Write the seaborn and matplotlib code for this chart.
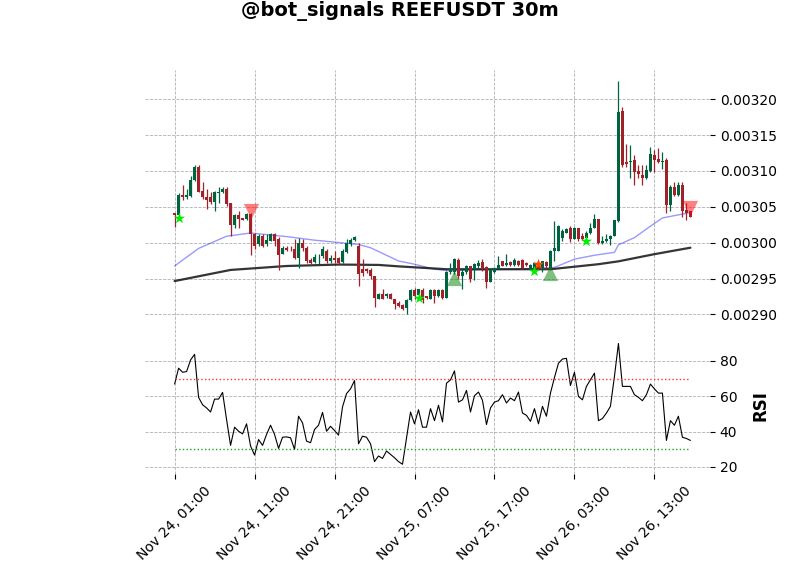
import matplotlib
matplotlib.use('Agg')
import matplotlib.pyplot as plt
import seaborn as sns
import numpy as np

# 30m candles, prices in units of 1e-5 USDT
PRICE_SCALE = 1e-5

opens = [304.1, 303.85, 306.6, 306.35, 306.5, 308.75, 310.6, 307.2, 306.4, 306.3,
         305.7, 306.9, 307.0, 307.45, 305.5, 302.45, 303.85, 303.4, 303.3, 304.0,
         301.2, 299.8, 300.9, 299.8, 300.3, 301.2, 300.5, 298.4, 299.2, 299.1,
         299.1, 297.8, 300.0, 299.2, 297.6, 297.35, 298.1, 298.15, 298.85, 297.45,
         297.9, 297.8, 297.3, 298.7, 299.75, 300.35, 299.6, 296.3, 296.3, 296.2,
         295.3, 292.2, 292.9, 292.5, 292.8, 292.2, 291.65, 291.3, 290.85, 292.0,
         293.45, 292.7, 293.45, 292.5, 292.2, 293.45, 292.5, 293.45, 292.35, 295.85,
         295.85, 297.6, 295.35, 295.85, 296.7, 296.3, 296.7, 297.3, 296.55, 294.55,
         295.9, 296.4, 297.45, 296.85, 297.3, 296.9, 297.45, 297.6, 297.2, 296.4,
         296.3, 297.0, 296.4, 297.3, 296.5, 298.85, 298.85, 300.7, 301.4, 302.1,
         300.55, 302.1, 300.9, 300.7, 301.4, 302.1, 303.25, 299.9, 300.25, 300.5,
         301.0, 303.0, 318.35, 311.2, 311.2, 311.5, 310.0, 309.45, 309.05, 310.0,
         312.2, 311.65, 311.2, 311.5, 305.2, 307.8, 306.6, 308.05, 304.6, 304.35]
highs = [304.2, 306.9, 308.0, 307.45, 309.3, 310.9, 310.9, 308.5, 307.5, 307.0,
         307.2, 307.7, 307.8, 307.7, 305.5, 304.0, 304.4, 303.5, 304.2, 304.2,
         301.4, 301.2, 301.2, 301.2, 301.4, 301.4, 300.75, 299.5, 299.5, 299.55,
         300.45, 300.7, 300.55, 299.55, 297.9, 298.4, 298.4, 299.55, 299.1, 298.25,
         298.85, 298.05, 299.1, 300.55, 300.7, 300.9, 300.0, 297.7, 296.5, 296.5,
         295.4, 293.05, 293.5, 293.05, 293.05, 292.2, 291.9, 291.4, 292.1, 293.6,
         293.75, 293.6, 293.75, 292.6, 293.6, 293.5, 293.5, 293.5, 296.05, 297.2,
         297.9, 297.8, 296.3, 296.85, 296.75, 297.2, 297.6, 297.7, 296.7, 296.5,
         296.6, 298.15, 297.5, 298.4, 297.4, 297.9, 297.6, 297.7, 297.3, 297.0,
         297.3, 297.1, 297.5, 297.4, 299.0, 303.0, 302.5, 301.95, 302.1, 302.3,
         302.2, 302.1, 301.4, 301.6, 302.8, 303.95, 303.35, 300.9, 301.15, 301.1,
         303.2, 322.5, 318.9, 313.8, 313.6, 312.2, 310.8, 310.9, 310.9, 313.4,
         312.9, 313.15, 312.7, 311.75, 308.0, 308.5, 308.4, 308.4, 305.5, 304.4]
lows = [302.2, 303.4, 305.9, 306.1, 306.4, 308.6, 307.0, 306.1, 304.7, 305.4,
        304.4, 305.6, 306.9, 305.1, 301.0, 302.1, 302.0, 303.1, 303.2, 298.3,
        299.1, 299.6, 299.35, 299.6, 300.3, 299.6, 296.25, 298.4, 298.8, 298.85,
        297.7, 296.5, 298.85, 297.2, 297.0, 297.2, 297.0, 297.9, 297.2, 297.2,
        297.2, 297.0, 297.2, 298.6, 299.55, 300.2, 294.0, 295.35, 295.8, 294.9,
        291.1, 292.1, 292.1, 292.35, 292.1, 290.75, 291.0, 290.6, 290.05, 291.9,
        292.1, 292.5, 291.65, 292.2, 292.1, 291.65, 292.4, 292.2, 292.3, 295.6,
        295.6, 294.9, 293.6, 295.7, 294.55, 294.8, 296.3, 296.05, 293.75, 294.5,
        295.8, 296.3, 296.7, 296.75, 296.7, 296.8, 296.7, 296.3, 296.7, 296.3,
        296.2, 296.2, 295.85, 296.3, 296.3, 297.5, 298.8, 300.2, 301.3, 300.1,
        300.5, 300.25, 300.35, 300.6, 301.15, 302.0, 299.75, 299.75, 300.1, 299.7,
        300.9, 302.9, 310.6, 310.6, 309.0, 308.05, 309.0, 308.05, 308.9, 309.9,
        309.9, 311.05, 310.3, 304.1, 304.35, 306.45, 306.45, 303.65, 303.2, 303.6]
closes = [303.9, 306.6, 306.3, 306.6, 308.8, 310.5, 307.1, 306.4, 306.0, 305.7,
          307.0, 307.1, 307.55, 305.4, 302.45, 303.9, 303.3, 303.2, 304.0, 301.2,
          299.6, 300.9, 299.6, 300.4, 301.2, 300.2, 298.3, 299.2, 299.0, 299.05,
          297.9, 300.0, 299.2, 297.45, 297.2, 298.05, 298.2, 299.1, 297.45, 297.9,
          297.6, 297.2, 298.85, 300.0, 300.35, 300.85, 295.6, 295.75, 296.05, 295.35,
          292.35, 292.8, 292.2, 292.8, 292.2, 291.45, 291.15, 290.75, 292.05, 293.45,
          292.6, 293.5, 292.05, 292.35, 293.45, 292.5, 293.45, 292.35, 295.9, 296.4,
          297.7, 295.35, 295.9, 296.75, 294.9, 297.0, 297.2, 296.3, 294.45, 296.4,
          296.5, 296.85, 296.75, 297.2, 296.85, 297.6, 296.85, 296.5, 296.85, 296.85,
          297.2, 296.4, 297.45, 296.75, 298.85, 299.2, 302.3, 301.6, 301.95, 300.45,
          302.1, 300.55, 300.55, 301.4, 302.1, 303.25, 300.0, 300.25, 300.55, 301.0,
          303.1, 318.25, 310.9, 310.95, 311.4, 309.8, 309.55, 309.05, 310.15, 312.35,
          311.5, 311.2, 311.4, 305.2, 307.8, 306.7, 308.05, 304.35, 304.1, 303.65]

rsi = [66.9, 75.9, 73.6, 74.0, 80.6, 83.75, 59.4, 55.2, 53.4, 51.1,
       58.4, 58.4, 62.2, 46.8, 32.2, 42.5, 40.2, 38.7, 44.4, 31.8,
       26.7, 35.5, 32.2, 38.4, 43.6, 38.4, 30.5, 36.8, 37.0, 36.5,
       29.9, 48.7, 44.9, 34.6, 33.7, 41.2, 43.6, 50.9, 40.2, 43.0,
       40.6, 38.0, 54.0, 61.5, 64.2, 68.9, 33.1, 37.4, 36.8, 33.1,
       23.0, 26.2, 24.8, 29.0, 27.1, 25.2, 23.0, 21.5, 36.1, 51.1,
       44.4, 52.4, 42.5, 42.5, 53.0, 46.2, 54.9, 45.5, 67.4, 69.3,
       74.4, 56.7, 58.0, 63.3, 51.1, 60.3, 62.4, 57.7, 44.0, 53.4,
       56.7, 57.5, 60.9, 56.2, 59.0, 57.5, 62.4, 50.5, 49.2, 45.8,
       53.0, 44.4, 54.3, 48.7, 61.8, 70.6, 78.7, 81.1, 81.5, 66.1,
       73.6, 59.9, 58.0, 65.6, 69.3, 73.1, 46.2, 47.4, 50.5, 54.3,
       71.2, 89.9, 65.6, 65.6, 65.6, 60.9, 59.4, 57.5, 60.9, 66.9,
       64.2, 61.8, 61.8, 35.0, 46.2, 43.6, 48.7, 36.8, 36.1, 35.0]

# moving averages read at their corner points (candle index, price)
ma_fast_idx = [0, 6, 13, 19, 28, 35, 46, 49, 56, 60, 65, 69, 74, 85, 95,
               100, 105, 110, 111, 115, 119, 122, 129]
ma_fast = [296.75, 299.2, 300.9, 301.35, 300.85, 300.35, 299.75, 299.3, 297.45,
           297.0, 296.3, 296.05, 296.2, 296.3, 296.55, 297.7, 298.25, 298.65,
           299.7, 300.7, 302.3, 303.45, 304.2]
ma_slow_idx = [0, 14, 28, 41, 51, 56, 68, 85, 94, 100, 106, 111, 120, 129]
ma_slow = [294.65, 296.2, 296.75, 296.95, 296.9, 296.7, 296.3, 296.3, 296.3,
           296.65, 297.0, 297.4, 298.4, 299.3]

# signal markers
buy_star_idx = [1, 61, 90, 103]
buy_star_px = [303.45, 292.3, 296.1, 300.25]
alt_star_idx = [91]
alt_star_px = [297.0]
sell_tri_idx = [19, 129]
sell_tri_px = [304.4, 304.9]
buy_tri_idx = [70, 94]
buy_tri_px = [295.1, 295.8]

# RSI guide levels
rsi_upper = 70
rsi_lower = 30

tick_pos = [0, 20, 40, 60, 80, 100, 120]
tick_labels = ['Nov 24, 01:00', 'Nov 24, 11:00', 'Nov 24, 21:00', 'Nov 25, 07:00',
               'Nov 25, 17:00', 'Nov 26, 03:00', 'Nov 26, 13:00']

sns.set_style('white')
plt.rcParams['font.family'] = ['DejaVu Sans']
plt.rcParams['text.color'] = 'black'
plt.rcParams['axes.labelcolor'] = 'black'
plt.rcParams['xtick.color'] = 'black'
plt.rcParams['ytick.color'] = 'black'

UP = '#006340'
DOWN = '#a02128'

fig = plt.figure(figsize=(8, 5.75), dpi=100)
ax = fig.add_axes([0.18125, 0.4139, 0.70625, 0.4643])
ax2 = fig.add_axes([0.18125, 0.1757, 0.70625, 0.2383], sharex=ax)

o = np.array(opens) * PRICE_SCALE
h = np.array(highs) * PRICE_SCALE
l = np.array(lows) * PRICE_SCALE
c = np.array(closes) * PRICE_SCALE
x = np.arange(len(c))
cols = [UP if cc >= oo else DOWN for oo, cc in zip(o, c)]

# candles
ax.vlines(x, l, h, colors=cols, linewidth=0.9, zorder=3)
body = np.maximum(np.abs(c - o), 0.04 * PRICE_SCALE)
ax.bar(x, body, bottom=np.minimum(o, c), width=0.65, color=cols, linewidth=0, zorder=4)

# moving averages
sns.lineplot(x=ma_fast_idx, y=np.array(ma_fast) * PRICE_SCALE, ax=ax,
             color='blue', alpha=0.4, linewidth=1, zorder=2)
sns.lineplot(x=ma_slow_idx, y=np.array(ma_slow) * PRICE_SCALE, ax=ax,
             color='#111111', alpha=0.85, linewidth=1.6, zorder=2)

# markers
sns.scatterplot(x=sell_tri_idx, y=np.array(sell_tri_px) * PRICE_SCALE, ax=ax,
                marker='v', s=120, color='red', alpha=0.5, linewidth=0, zorder=5)
sns.scatterplot(x=buy_tri_idx, y=np.array(buy_tri_px) * PRICE_SCALE, ax=ax,
                marker='^', s=120, color='green', alpha=0.5, linewidth=0, zorder=5)
sns.scatterplot(x=buy_star_idx, y=np.array(buy_star_px) * PRICE_SCALE, ax=ax,
                marker='*', s=70, color='#00ee00', linewidth=0, zorder=6)
sns.scatterplot(x=alt_star_idx, y=np.array(alt_star_px) * PRICE_SCALE, ax=ax,
                marker='*', s=70, color='#ff4500', linewidth=0, zorder=6)

ax.set_ylim(286.85 * PRICE_SCALE, 324.07 * PRICE_SCALE)
ax.set_yticks(np.array([290, 295, 300, 305, 310, 315, 320]) * PRICE_SCALE)
ax.yaxis.set_major_formatter(matplotlib.ticker.FormatStrFormatter('%.5f'))

# RSI panel
sns.lineplot(x=x, y=rsi, ax=ax2, color='black', linewidth=0.8)
ax2.plot([x[0], x[-1]], [rsi_upper, rsi_upper], color='#ff3030', linestyle=':', linewidth=1.0)
ax2.plot([x[0], x[-1]], [rsi_lower, rsi_lower], color='#20a020', linestyle=':', linewidth=1.0)
ax2.set_ylim(16.0, 93.6)
ax2.set_yticks([20, 40, 60, 80])
ax2.set_ylabel('RSI', fontsize=12, fontweight='bold', labelpad=10)
ax2.yaxis.set_label_position('right')

ax.set_xlim(-7.4, 133.9)
ax2.set_xticks(tick_pos)
ax2.set_xticklabels(tick_labels, rotation=45, ha='center')

for a in (ax, ax2):
    for s in a.spines.values():
        s.set_visible(False)
    a.grid(True, linestyle='--', color='#b0b0b0', linewidth=0.6)
    a.set_axisbelow(True)
    a.yaxis.tick_right()
    a.tick_params(axis='y', length=3.5, labelsize=10, left=False, right=True)
    a.set_xlabel('')
ax.tick_params(axis='x', bottom=False, labelbottom=False)
ax2.tick_params(axis='x', length=3.5, labelsize=10, bottom=True)

fig.suptitle('@bot_signals REEFUSDT 30m', fontsize=14, fontweight='bold',
             x=0.5, y=0.981, va='center', color='black')

fig.savefig('out.png', dpi=100)
